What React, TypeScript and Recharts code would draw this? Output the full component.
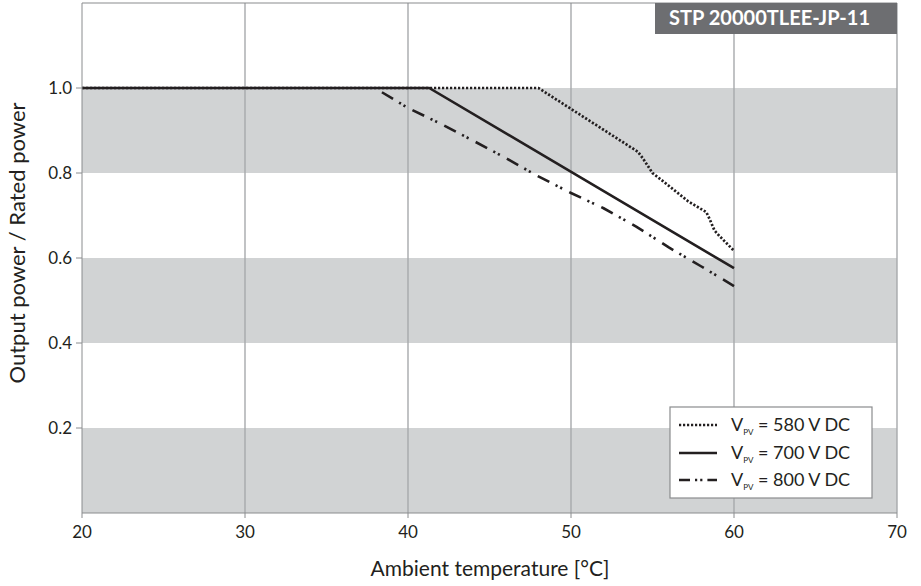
import React from 'react';
import {
  LineChart,
  Line,
  XAxis,
  YAxis,
  ReferenceArea,
  ReferenceLine,
} from 'recharts';

// Axis ticks
const tempTicks = [20, 30, 40, 50, 60, 70];
const ratioTicks = [0.2, 0.4, 0.6, 0.8, 1.0];
const gridTemps = [30, 40, 50, 60, 70];

// Shaded bands of the power-ratio axis
const bandLows = [0, 0.4, 0.8];
const bandHighs = [0.2, 0.6, 1.0];

// Derating curves: ambient temperature (°C) vs output / rated power
const temps580 = [20, 48, 54.1, 54.4, 55, 55.6, 57.2, 58.3, 58.5, 58.8, 59.1, 60];
const power580 = [1.0, 1.0, 0.85, 0.835, 0.8, 0.782, 0.733, 0.708, 0.692, 0.665, 0.652, 0.617];

const temps700 = [20, 41.3, 60];
const power700 = [1.0, 1.0, 0.576];

const temps800 = [38.4, 40, 42, 44, 46, 48, 50, 52, 54, 56, 58, 60];
const power800 = [0.99, 0.953, 0.916, 0.876, 0.835, 0.792, 0.753, 0.717, 0.674, 0.625, 0.58, 0.534];

const modelName = 'STP 20000TLEE-JP-11';
const seriesVoltages = ['580', '700', '800'];

const toPoints = (t: number[], p: number[]) => t.map((temp, i) => ({ t: temp, p: p[i] }));

const data580 = toPoints(temps580, power580);
const data700 = toPoints(temps700, power700);
const data800 = toPoints(temps800, power800);

const FONT = 'Lato, "DejaVu Sans", sans-serif';
const INK = '#231f20';
const DOTTED = '2.2 1.8';
const DASH_DOT_DOT = '13 7 2.2 3 2.2 8';

const lineStyles = [
  { dash: DOTTED, width: 2.7, sample: DOTTED },
  { dash: undefined, width: 2.6, sample: undefined },
  { dash: DASH_DOT_DOT, width: 2.6, sample: '11 5 2.2 3 2.2 5 11' },
];

// Badge, axis titles and legend drawn on a layer above the plot
function Overlay() {
  const rows = [425, 453, 480];
  return (
    <svg
      width={921}
      height={586}
      style={{ position: 'absolute', left: 0, top: 0, pointerEvents: 'none' }}
    >
      <rect x={655} y={3} width={242} height={31} fill="#6d6e71" />
      <text
        x={870}
        y={25}
        textAnchor="end"
        fill="#ffffff"
        fontFamily={FONT}
        fontWeight={700}
        fontSize={20}
      >
        {modelName}
      </text>

      <text
        x={490}
        y={576}
        textAnchor="middle"
        fill={INK}
        fontFamily={FONT}
        fontSize={21}
      >
        Ambient temperature [°C]
      </text>
      <text
        transform="translate(25, 243) rotate(-90)"
        textAnchor="middle"
        fill={INK}
        fontFamily={FONT}
        fontSize={22}
      >
        Output power / Rated power
      </text>

      <rect x={670} y={407} width={202} height={91} fill="#ffffff" stroke="#8a8c8e" strokeWidth={1.2} />
      {rows.map((ry, i) => (
        <g key={seriesVoltages[i]}>
          <line
            x1={679}
            x2={717}
            y1={ry}
            y2={ry}
            stroke={INK}
            strokeWidth={lineStyles[i].width}
            strokeDasharray={lineStyles[i].sample}
          />
          <text x={731} y={ry + 6} fill={INK} fontFamily={FONT} fontSize={18}>
            V
            <tspan fontSize={8} dy={4}>PV</tspan>
            <tspan dy={-4}>{` = ${seriesVoltages[i]} V DC`}</tspan>
          </text>
        </g>
      ))}
    </svg>
  );
}

export default function App() {
  return (
    <div style={{ position: 'absolute', left: 0, top: 0, width: 921, height: 586, background: '#fff' }}>
      <LineChart
        width={921}
        height={586}
        margin={{ top: 3, right: 24, bottom: 43, left: 22 }}
      >
        <XAxis
          type="number"
          dataKey="t"
          domain={[20, 70]}
          ticks={tempTicks}
          allowDataOverflow
          height={30}
          tickSize={5}
          tickMargin={8}
          stroke="#8a8c8e"
          tick={{ fill: INK, fontSize: 17, fontFamily: FONT }}
        />
        <YAxis
          type="number"
          dataKey="p"
          domain={[0, 1.2]}
          ticks={ratioTicks}
          allowDataOverflow
          width={60}
          tickSize={6}
          tickMargin={4}
          stroke="#8a8c8e"
          tickFormatter={(v: number) => v.toFixed(1)}
          tick={{ fill: INK, fontSize: 17, fontFamily: FONT }}
        />
        {bandLows.map((lo, i) => (
          <ReferenceArea
            key={`band-${lo}`}
            y1={lo}
            y2={bandHighs[i]}
            x1={20}
            x2={70}
            fill="#d1d3d4"
            fillOpacity={1}
            stroke="none"
          />
        ))}
        {gridTemps.map((t) => (
          <ReferenceLine key={`grid-${t}`} x={t} stroke="#a7a9ac" strokeWidth={1.4} />
        ))}
        <ReferenceLine y={1.2} stroke="#8a8c8e" strokeWidth={1.2} />
        <Line
          data={data580}
          dataKey="p"
          type="linear"
          stroke={INK}
          strokeWidth={lineStyles[0].width}
          strokeDasharray={DOTTED}
          dot={false}
          activeDot={false}
          isAnimationActive={false}
        />
        <Line
          data={data800}
          dataKey="p"
          type="linear"
          stroke={INK}
          strokeWidth={lineStyles[2].width}
          strokeDasharray={DASH_DOT_DOT}
          dot={false}
          activeDot={false}
          isAnimationActive={false}
        />
        <Line
          data={data700}
          dataKey="p"
          type="linear"
          stroke={INK}
          strokeWidth={lineStyles[1].width}
          dot={false}
          activeDot={false}
          isAnimationActive={false}
        />
      </LineChart>
      <Overlay />
    </div>
  );
}
